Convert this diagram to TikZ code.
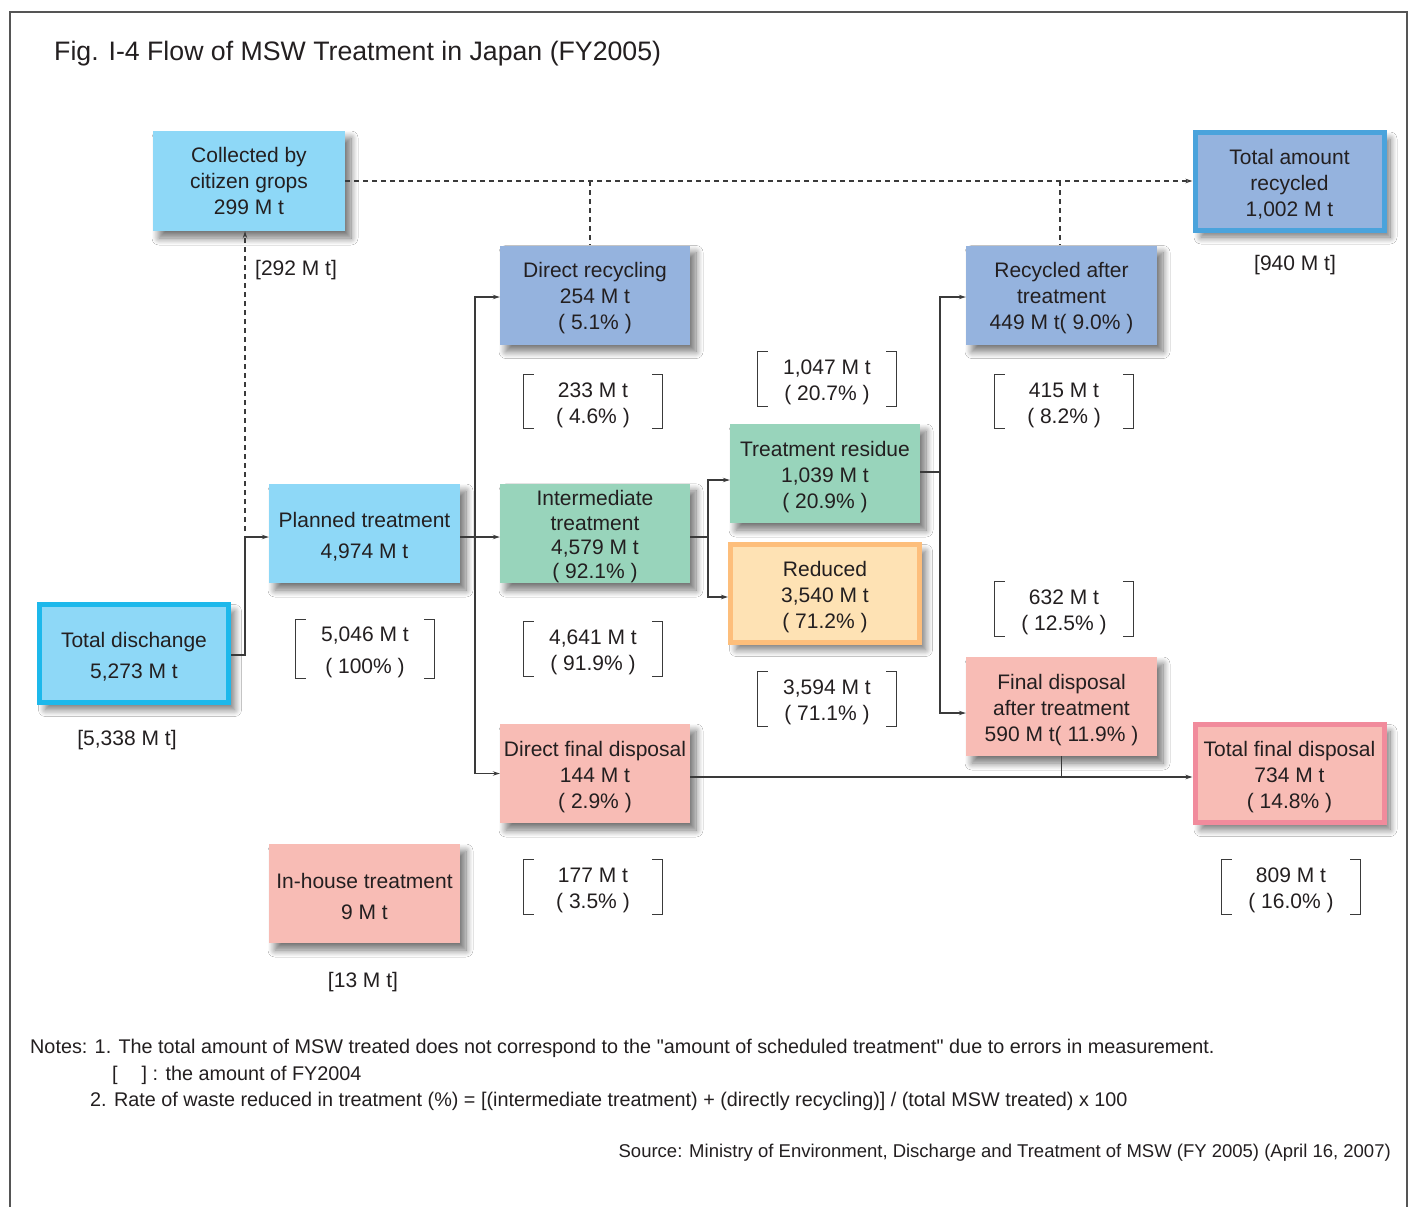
\documentclass[tikz,border=0pt]{standalone}
\usepackage{fontspec}
\setmainfont{Liberation Sans}
\usetikzlibrary{arrows.meta,shadows.blur}
\definecolor{txt}{HTML}{231F20}
\definecolor{lblue}{HTML}{8ED8F7}
\definecolor{sblue}{HTML}{95B3DE}
\definecolor{mint}{HTML}{98D4BB}
\definecolor{peach}{HTML}{FEE2B4}
\definecolor{peachB}{HTML}{FDBE7B}
\definecolor{pink}{HTML}{F8BCB5}
\definecolor{pinkB}{HTML}{F18B9C}
\definecolor{cyanB}{HTML}{1DB8EB}
\definecolor{blueB}{HTML}{4AA3DC}
\definecolor{frame}{HTML}{555555}
\definecolor{lin}{HTML}{3A3A3A}
\newcommand\ts{\rule{0pt}{22pt}}
\newcommand\qq{\XeTeXglyph\XeTeXcharglyph"22\relax}
\tikzset{
  box/.style={rectangle, inner sep=0pt, align=center, text=txt,
    minimum width=190pt, minimum height=99pt,
    font=\fontsize{21}{26}\selectfont,
    blur shadow={shadow blur steps=12, shadow xshift=6pt, shadow yshift=-7pt, shadow blur radius=7pt, shadow opacity=55}},
  two/.style={font=\fontsize{21}{31}\selectfont},
  thickb/.style={line width=5pt, minimum width=189pt, minimum height=98pt},
  brk/.style={rectangle, inner sep=0pt, align=center, text=txt,
    minimum width=138pt, minimum height=54pt, font=\fontsize{21}{26}\selectfont},
  lbl/.style={inner sep=0pt, text=txt, font=\fontsize{21}{24}\selectfont},
  arr/.style={draw=lin, line width=1.1pt, -{Stealth[length=7pt,width=4.5pt]}},
  ln/.style={draw=lin, line width=1.1pt},
  dsh/.style={draw=lin, line width=1.1pt, dash pattern=on 5pt off 4pt},
  brline/.style={draw=lin, line width=1pt},
  note/.style={inner sep=0pt, text=txt, font=\fontsize{19.8}{22}\selectfont},
}
\newcommand\brackets[1]{%
  \draw[brline] ([xshift=10pt]#1.north west) -- (#1.north west) -- (#1.south west) -- ([xshift=10pt]#1.south west);
  \draw[brline] ([xshift=-10pt]#1.north east) -- (#1.north east) -- (#1.south east) -- ([xshift=-10pt]#1.south east);}
\begin{document}
\begin{tikzpicture}[x=1pt,y=-1pt]
\useasboundingbox (0,0) rectangle (1411,1207);
\fill[white] (0,0) rectangle (1411,1207);
% frame
\draw[frame, line width=1.4pt] (10,1207) -- (10,12) -- (1407,12) -- (1407,1207);
% title
\node[anchor=west, inner sep=0pt, text=txt, font=\fontsize{26.7}{30}\selectfont] (title) at (54,54) {Fig. I-4 Flow of MSW Treatment in Japan (FY2005)};

% boxes
\node[box, fill=lblue, minimum width=192pt, minimum height=100pt] (CG) at (249,181) {Collected by\\citizen grops\\299 M t};
\node[box, thickb, fill=sblue, draw=blueB] (TAR) at (1289.5,181) {\ts Total amount\\recycled\\1,002 M t};
\node[box, fill=sblue] (DR) at (595,295) {\ts Direct recycling\\254 M t\\( 5.1\% )};
\node[box, fill=sblue, minimum width=191pt] (RA) at (1061.5,295) {\ts Recycled after\\treatment\\449 M t( 9.0\% )};
\node[box, fill=mint] (TR) at (825,473.5) {\ts Treatment residue\\1,039 M t\\( 20.9\% )};
\node[box, fill=mint, font=\fontsize{21}{24.3}\selectfont] (IT) at (595,533.5) {\ts Intermediate\\treatment\\4,579 M t\\( 92.1\% )};
\node[box, two, fill=lblue, minimum width=191pt] (PT) at (364.5,533.5) {\ts Planned treatment\\4,974 M t};
\node[box, thickb, fill=peach, draw=peachB] (RD) at (825,593.5) {\ts Reduced\\3,540 M t\\( 71.2\% )};
\node[box, thickb, two, fill=lblue, draw=cyanB] (TD) at (134,653.5) {\ts Total dischange\\5,273 M t};
\node[box, fill=pink, minimum width=191pt] (FA) at (1061.5,706.5) {\ts Final disposal\\after treatment\\590 M t( 11.9\% )};
\node[box, thickb, fill=pink, draw=pinkB] (TFD) at (1289.5,773.5) {\ts Total final disposal\\734 M t\\( 14.8\% )};
\node[box, fill=pink] (DF) at (595,773.5) {\ts Direct final disposal\\144 M t\\( 2.9\% )};
\node[box, two, fill=pink, minimum width=191pt] (IH) at (364.5,893.5) {\ts In-house treatment\\9 M t};

% previous-year labels
\node[lbl, anchor=west] (p292) at (255,270) {[292 M t]};
\node[lbl] (p940) at (1295,265) {[940 M t]};
\node[lbl] (p5338) at (127,740) {[5,338 M t]};
\node[lbl] (p13) at (363,982) {[13 M t]};

% bracketed values
\node[brk] (b233) at (593,401.5) {\ts 233 M t\\( 4.6\% )};
\node[brk] (b1047) at (827,379) {\ts 1,047 M t\\( 20.7\% )};
\node[brk] (b415) at (1064,401.5) {\ts 415 M t\\( 8.2\% )};
\node[brk, font=\fontsize{21}{32}\selectfont] (b5046) at (365,649) {\ts 5,046 M t\\( 100\% )};
\node[brk] (b4641) at (593,649) {\ts 4,641 M t\\( 91.9\% )};
\node[brk] (b632) at (1064,609) {\ts 632 M t\\( 12.5\% )};
\node[brk] (b3594) at (827,699) {\ts 3,594 M t\\( 71.1\% )};
\node[brk] (b177) at (593,887) {\ts 177 M t\\( 3.5\% )};
\node[brk] (b809) at (1291,887) {\ts 809 M t\\( 16.0\% )};
\brackets{b233}\brackets{b1047}\brackets{b415}\brackets{b5046}\brackets{b4641}
\brackets{b632}\brackets{b3594}\brackets{b177}\brackets{b809}

% junction coordinates
\coordinate (j1) at (245,537);
\coordinate (v1) at (475,537);
\coordinate (v2) at (708,537);
\coordinate (v3) at (940,472);
\coordinate (d1) at (590,181);
\coordinate (d1b) at (590,245);
\coordinate (d2) at (1060,181);
\coordinate (tdE) at ([yshift=-1.5pt]TD.east);
\coordinate (ptW) at ([yshift=-3.5pt]PT.west);
\coordinate (ptE) at ([yshift=-3.5pt]PT.east);
\coordinate (itW) at ([yshift=-3.5pt]IT.west);
\coordinate (itE) at ([yshift=-3.5pt]IT.east);
\coordinate (drW) at ([yshift=-2pt]DR.west);
\coordinate (raW) at ([yshift=-2pt]RA.west);
\coordinate (trW) at ([yshift=-6.5pt]TR.west);
\coordinate (trE) at ([yshift=1.5pt]TR.east);
\coordinate (rdW) at ([yshift=-3.5pt]RD.west);
\coordinate (faW) at ([yshift=-6.5pt]FA.west);
\coordinate (dfW) at (DF.west);
\coordinate (dfE) at ([yshift=-3.5pt]DF.east);
\coordinate (tfW) at ([yshift=-3.5pt]TFD.west);

% connectors
\draw[arr] (tdE) -- (tdE -| j1) -- (j1) -- (ptW);
\draw[dsh, -{Stealth[length=7pt,width=4.5pt]}] ([yshift=6pt]j1) -- (j1 |- CG.south);
\draw[dsh, -{Stealth[length=7pt,width=4.5pt]}] (CG.east) -- (TAR.west);
\draw[dsh] (d1) -- (d1b);
\draw[dsh] (d2) -- (d2 |- RA.north);
\draw[arr] (ptE) -- (itW);
\draw[arr] (v1) |- (drW);
\draw[arr] (v1) |- (dfW);
\draw[ln] (itE) -- (v2);
\draw[arr] (v2) |- (trW);
\draw[arr] (v2) |- (rdW);
\draw[ln] (trE) -- (v3);
\draw[arr] (v3) |- (raW);
\draw[arr] (v3) |- (faW);
\draw[arr] (dfE) -- (tfW);
\draw[ln] (FA.south) -- (FA.south |- dfE);

% notes
\node[note, anchor=west] (n1) at (30,1048) {Notes: 1. The total amount of MSW treated does not correspond to the \qq amount of scheduled treatment\qq\ due to errors in measurement.};
\node[note, anchor=west] (n2) at (112,1075) {[\hspace{24pt}] : the amount of FY2004};
\node[note, anchor=west] (n3) at (90,1101) {2. Rate of waste reduced in treatment (\%) = [(intermediate treatment) + (directly recycling)] / (total MSW treated) x 100};
\node[note, anchor=east, font=\fontsize{18.5}{22}\selectfont] (src) at (1391,1153) {Source: Ministry of Environment, Discharge and Treatment of MSW (FY 2005) (April 16, 2007)};
\end{tikzpicture}
\end{document}
